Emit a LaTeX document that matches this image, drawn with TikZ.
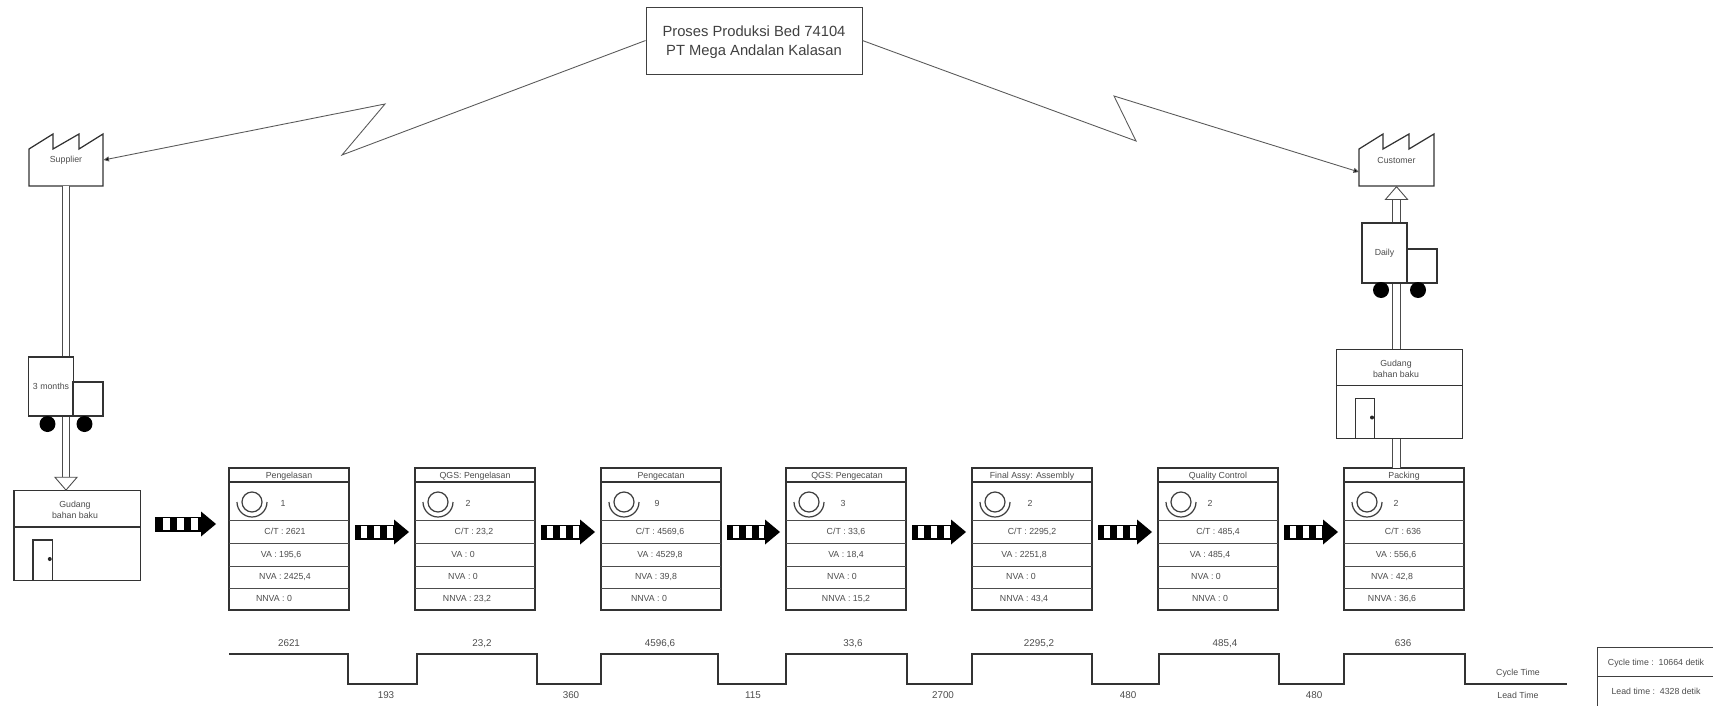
\documentclass[tikz,border=0pt]{standalone}
\usepackage{fontspec}
\setmainfont{Liberation Sans}
\usetikzlibrary{arrows.meta}

\begin{document}
\begin{tikzpicture}[
  x=0.02cm,y=-0.02cm,
  lbltxt/.style={inner sep=0pt,text height=3.6pt,text depth=0pt,text=black!70,font=\fontsize{5}{6.2}\selectfont},
  gudtxt/.style={inner sep=0pt,align=center,text=black!70,font=\fontsize{5}{6.2}\selectfont},
  timetxt/.style={inner sep=0pt,text height=4pt,text depth=0pt,text=black!70,font=\fontsize{5.6}{7}\selectfont},
  titlebox/.style={rectangle,draw=black!75,line width=0.5pt,inner sep=0pt,minimum width=4.32cm,minimum height=1.34cm},
  titletxt/.style={inner sep=0pt,align=center,text=black!75,font=\fontsize{8.4}{10.8}\selectfont},
  procbox/.style={rectangle,draw=black!80,line width=0.7pt,fill=white,inner sep=0pt,outer sep=0pt,minimum width=2.4cm,minimum height=2.84cm},
  gudang/.style={rectangle,draw=black!80,line width=0.7pt,fill=white,inner sep=0pt,outer sep=0pt,minimum width=2.53cm,minimum height=1.79cm},
  truckbox/.style={rectangle,draw=black!80,line width=0.7pt,fill=white,inner sep=0pt,outer sep=0pt,align=center,text=black!70,font=\fontsize{5}{6.2}\selectfont},
  wheel/.style={circle,fill=black,inner sep=0pt,minimum size=0.32cm},
  factory/.style={inner sep=0pt,outer sep=0pt,minimum width=1.5cm,minimum height=1.04cm,text=black!70,font=\fontsize{5}{6.2}\selectfont},
  outline/.style={draw=black!80,line width=0.7pt,line join=miter},
  zigline/.style={draw=black!65,line width=0.5pt,-{Triangle[length=0.11cm,width=0.1cm,fill=black]}},
  shaft/.style={draw=black!70,line width=0.5pt,double=white,double distance=0.13cm},
  pushbase/.style={draw=black,line width=0.3cm,-{Triangle[length=0.3cm,width=0.5cm,line width=0pt,fill=black]}},
  pusharrow/.style={pushbase,postaction={draw=white,-,line width=0.24cm,dash pattern=on 0.12cm off 0.14cm,shorten <=0.12cm,shorten >=0.32cm}},
  pushbig/.style={pushbase,postaction={draw=white,-,line width=0.24cm,dash pattern=on 0.14cm off 0.14cm,shorten <=0.16cm,shorten >=0.36cm}},
  steptime/.style={draw=black!80,line width=0.7pt,line join=miter},
  procrows/.pic={
    \draw[black!80,line width=0.7pt] (-60,-57) -- (60,-57);
    \draw[black!70,line width=0.5pt] (-60,-19) -- (60,-19);
    \draw[black!70,line width=0.5pt] (-60,4) -- (60,4);
    \draw[black!70,line width=0.5pt] (-60,27) -- (60,27);
    \draw[black!70,line width=0.5pt] (-60,49) -- (60,49);
    \draw[black!75,line width=0.7pt] (-37,-37) circle[radius=0.2cm];
    \draw[black!75,line width=0.7pt] (-52,-37) arc[start angle=180,end angle=360,radius=0.3cm];
  },
  gudangin/.pic={
    \draw[black!80,line width=0.7pt] (-63.25,-8.5) -- (63.25,-8.5);
    \draw[black!80,line width=0.7pt] (-44.25,44.5) -- (-44.25,4.5) -- (-25,4.5) -- (-25,44.5);
    \fill[black!85] (-27.5,23.5) circle[radius=0.04cm];
  },
]
\useasboundingbox (0,0) rectangle (1713,706);
\clip (0,0) rectangle (1713,706);

% ==== TITLE AND FACTORIES ====
\node[titlebox] (Title) at (754,40.5) {};
\node[titletxt] (Titlet) at (754,42.5) {Proses Produksi Bed 74104\\PT Mega Andalan Kalasan};

\draw[outline] (29,149) -- (53,134) -- (53,149) -- (79,134) -- (79,149) -- (103,134) -- (103,186) -- (29,186) -- cycle;
\node[factory] (Sup) at (66,160) {Supplier};
\draw[outline] (1359,149) -- (1383,134) -- (1383,149) -- (1409,134) -- (1409,149) -- (1434,134) -- (1434,186) -- (1359,186) -- cycle;
\node[factory] (Cus) at (1396.5,160) {Customer};

% Lightning lines from title to factories
\coordinate (zigL1) at (342,155);
\coordinate (zigL2) at (385,104);
\coordinate (zigR1) at (1136,141);
\coordinate (zigR2) at (1114,96);
\draw[zigline] (Title.west) -- (zigL1) -- (zigL2) -- (Sup.east);
\draw[zigline] (Title.east) -- (zigR1) -- (zigR2) -- ([shift={(0,12)}]Cus.west);

% ==== PROCESS BOXES ====
\node[procbox] (P1) at (289,539) {};
\pic (P1r) at (P1) {procrows};
\node[lbltxt] (P1h) at (289,475) {Pengelasan};
\node[lbltxt] (P1n) at (283,503) {1};
\node[lbltxt] (P1ct) at (285,531) {C/T : 2621};
\node[lbltxt] (P1va) at (281,554) {VA : 195,6};
\node[lbltxt] (P1nva) at (285,576) {NVA : 2425,4};
\node[lbltxt] (P1nn) at (274,598) {NNVA : 0};

\node[procbox] (P2) at (475,539) {};
\pic (P2r) at (P2) {procrows};
\node[lbltxt] (P2h) at (475,475) {QGS: Pengelasan};
\node[lbltxt] (P2n) at (468,503) {2};
\node[lbltxt] (P2ct) at (474,531) {C/T : 23,2};
\node[lbltxt] (P2va) at (463,554) {VA : 0};
\node[lbltxt] (P2nva) at (463,576) {NVA : 0};
\node[lbltxt] (P2nn) at (467,598) {NNVA : 23,2};

\node[procbox] (P3) at (661,539) {};
\pic (P3r) at (P3) {procrows};
\node[lbltxt] (P3h) at (661,475) {Pengecatan};
\node[lbltxt] (P3n) at (657,503) {9};
\node[lbltxt] (P3ct) at (660,531) {C/T : 4569,6};
\node[lbltxt] (P3va) at (660,554) {VA : 4529,8};
\node[lbltxt] (P3nva) at (656,576) {NVA : 39,8};
\node[lbltxt] (P3nn) at (649,598) {NNVA : 0};

\node[procbox] (P4) at (846,539) {};
\pic (P4r) at (P4) {procrows};
\node[lbltxt] (P4h) at (847,475) {QGS: Pengecatan};
\node[lbltxt] (P4n) at (843,503) {3};
\node[lbltxt] (P4ct) at (846,531) {C/T : 33,6};
\node[lbltxt] (P4va) at (846,554) {VA : 18,4};
\node[lbltxt] (P4nva) at (842,576) {NVA : 0};
\node[lbltxt] (P4nn) at (846,598) {NNVA : 15,2};

\node[procbox] (P5) at (1032,539) {};
\pic (P5r) at (P5) {procrows};
\node[lbltxt] (P5h) at (1032,475) {Final Assy: Assembly};
\node[lbltxt] (P5n) at (1030,503) {2};
\node[lbltxt] (P5ct) at (1032,531) {C/T : 2295,2};
\node[lbltxt] (P5va) at (1024,554) {VA : 2251,8};
\node[lbltxt] (P5nva) at (1021,576) {NVA : 0};
\node[lbltxt] (P5nn) at (1024,598) {NNVA : 43,4};

\node[procbox] (P6) at (1218,539) {};
\pic (P6r) at (P6) {procrows};
\node[lbltxt] (P6h) at (1218,475) {Quality Control};
\node[lbltxt] (P6n) at (1210,503) {2};
\node[lbltxt] (P6ct) at (1218,531) {C/T : 485,4};
\node[lbltxt] (P6va) at (1210,554) {VA : 485,4};
\node[lbltxt] (P6nva) at (1206,576) {NVA : 0};
\node[lbltxt] (P6nn) at (1210,598) {NNVA : 0};

\node[procbox] (P7) at (1404,539) {};
\pic (P7r) at (P7) {procrows};
\node[lbltxt] (P7h) at (1404,475) {Packing};
\node[lbltxt] (P7n) at (1396,503) {2};
\node[lbltxt] (P7ct) at (1403,531) {C/T : 636};
\node[lbltxt] (P7va) at (1396,554) {VA : 556,6};
\node[lbltxt] (P7nva) at (1392,576) {NVA : 42,8};
\node[lbltxt] (P7nn) at (1392,598) {NNVA : 36,6};

% ==== SHAFTS, WAREHOUSES, TRUCKS ====
\node[gudang] (G1) at (77.25,535.5) {};
\draw[shaft,-{Triangle[length=0.28cm,width=0.48cm,line width=0.5pt,fill=white]}] (Sup.south) -- (Sup.south|-G1.north);
\draw[shaft,-{Triangle[length=0.28cm,width=0.48cm,line width=0.5pt,fill=white]}] (Cus.south|-P7.north) -- (Cus.south);

\pic (G1r) at (G1) {gudangin};
\node[gudtxt] (G1t) at (75,510) {Gudang\\bahan baku};
\node[gudang] (G2) at (1399.5,394) {};
\pic (G2r) at (G2) {gudangin};
\node[gudtxt] (G2t) at (1396,369) {Gudang\\bahan baku};

\node[truckbox,minimum width=0.9cm,minimum height=1.18cm] (T1) at (51,386.5) {3 months};
\node[truckbox,minimum width=0.6cm,minimum height=0.68cm] (T1c) at (88,399) {};
\node[wheel] (T1a) at (47.5,424) {};
\node[wheel] (T1b) at (84.5,424) {};

\node[truckbox,minimum width=0.9cm,minimum height=1.2cm] (T2) at (1384.5,253) {Daily};
\node[truckbox,minimum width=0.6cm,minimum height=0.68cm] (T2c) at (1422,266) {};
\node[wheel] (T2a) at (1381,290) {};
\node[wheel] (T2b) at (1418,290) {};

% Push arrows between the processes
\draw[pushbig] ([shift={(14.5,-11.5)}]G1.east) -- ([shift={(-13,-15)}]P1.west);
\draw[pusharrow] ([shift={(6,-7)}]P1.east) -- ([shift={(-6,-7)}]P2.west);
\draw[pusharrow] ([shift={(6,-7)}]P2.east) -- ([shift={(-6,-7)}]P3.west);
\draw[pusharrow] ([shift={(6,-7)}]P3.east) -- ([shift={(-6,-7)}]P4.west);
\draw[pusharrow] ([shift={(6,-7)}]P4.east) -- ([shift={(-6,-7)}]P5.west);
\draw[pusharrow] ([shift={(6,-7)}]P5.east) -- ([shift={(-6,-7)}]P6.west);
\draw[pusharrow] ([shift={(6,-7)}]P6.east) -- ([shift={(-6,-7)}]P7.west);

% ==== TIME LINE ====
\draw[steptime] (229,654) -- (348,654) -- (348,684) -- (417,684) -- (417,654) -- (537,654) -- (537,684)
  -- (601,684) -- (601,654) -- (718,654) -- (718,684) -- (786,684) -- (786,654) -- (907,654) -- (907,684)
  -- (972,684) -- (972,654) -- (1092,654) -- (1092,684) -- (1159,684) -- (1159,654) -- (1279,654) -- (1279,684)
  -- (1344,684) -- (1344,654) -- (1465,654) -- (1465,684) -- (1567,684);

\node[timetxt] (C1) at (289,643) {2621};
\node[timetxt] (C2) at (482,643) {23,2};
\node[timetxt] (C3) at (660,643) {4596,6};
\node[timetxt] (C4) at (853,643) {33,6};
\node[timetxt] (C5) at (1039,643) {2295,2};
\node[timetxt] (C6) at (1225,643) {485,4};
\node[timetxt] (C7) at (1403,643) {636};

\node[timetxt] (L1) at (386,695) {193};
\node[timetxt] (L2) at (571,695) {360};
\node[timetxt] (L3) at (753,695) {115};
\node[timetxt] (L4) at (943,695) {2700};
\node[timetxt] (L5) at (1128,695) {480};
\node[timetxt] (L6) at (1314,695) {480};

\node[lbltxt] (CycT) at (1518,672) {Cycle Time};
\node[lbltxt] (LeadT) at (1518,695) {Lead Time};

% Summary table, cut by the page edge
\draw[black!75,line width=0.5pt] (1713,647) -- (1597,647) -- (1597,706);
\draw[black!75,line width=0.5pt] (1597,676) -- (1713,676);
\node[lbltxt] (SumC) at (1656,662) {Cycle time :~~10664 detik};
\node[lbltxt] (SumL) at (1656,691) {Lead time :~~4328 detik};

\end{tikzpicture}
\end{document}
